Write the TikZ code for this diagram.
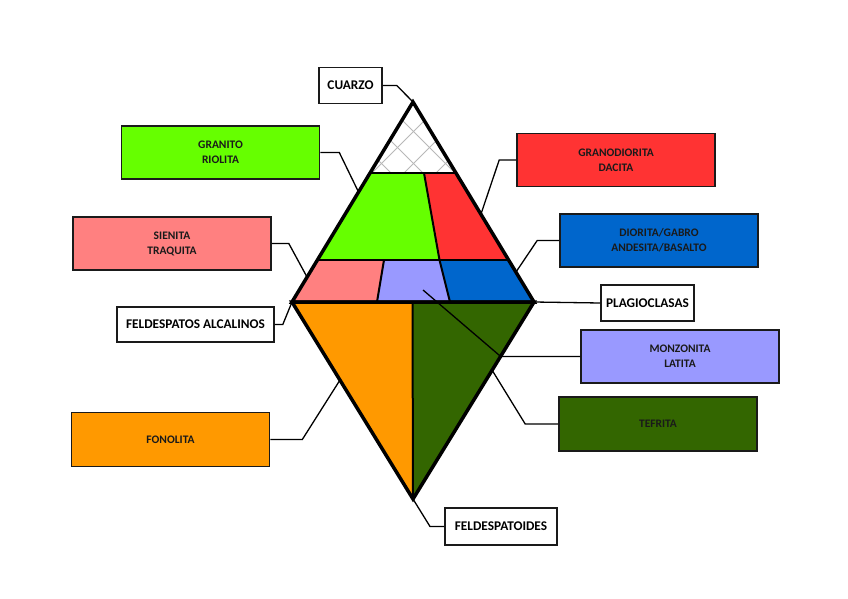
\documentclass[tikz,border=0pt]{standalone}
\usepackage{fontspec}
\setmainfont{Carlito}
\usetikzlibrary{calc}
\definecolor{cGreen}{HTML}{66FF00}
\definecolor{cRed}{HTML}{FF3333}
\definecolor{cPink}{HTML}{FF8080}
\definecolor{cLav}{HTML}{9999FF}
\definecolor{cBlue}{HTML}{0066CC}
\definecolor{cOrange}{HTML}{FF9900}
\definecolor{cDkGreen}{HTML}{336600}
\definecolor{cText}{HTML}{1A1A1A}
\definecolor{cHatch}{HTML}{B8B8B8}
\begin{document}
\begin{tikzpicture}[x=1pt,y=-1pt,
  rockbox/.style={draw=cText, line width=1.6pt, minimum width=198pt, minimum height=53pt,
    inner sep=0pt, align=center, font=\fontsize{11.5}{15}\selectfont\bfseries, text=cText},
  labelbox/.style={draw=cText, fill=white, line width=1.6pt, minimum height=36pt,
    inner sep=0pt, font=\fontsize{13.3}{15}\selectfont\bfseries, text=black},
  conn/.style={line width=1.3pt, draw=black},
  outline/.style={line width=3.5pt, line join=miter, draw=black},
  divider/.style={line width=2pt, draw=black},
  hatch/.style={draw=cHatch, line width=0.8pt},
]
\fill[white] (0,0) rectangle (848,599);
\useasboundingbox (0,0) rectangle (848,599);

% triangle vertices
\coordinate (Q) at (413,102);
\coordinate (A) at (292,302);
\coordinate (P) at (534,302);
\coordinate (F) at (413,499);
% edge points for connectors
\coordinate (gE) at (358.5,192);
\coordinate (sE) at (307,277);
\coordinate (grE) at (481,214);
\coordinate (dE) at (516,272);
\coordinate (mE) at (423,290);
\coordinate (tE) at (492,370);
\coordinate (fE) at (340,380);

% boxes
\node[labelbox, minimum width=63pt] (cuarzo) at (350.5,85.5) {CUARZO};
\node[rockbox, fill=cGreen] (granito) at (220.5,152.5) {GRANITO\\RIOLITA};
\node[rockbox, fill=cPink] (sienita) at (172,243.5) {SIENITA\\TRAQUITA};
\node[labelbox, minimum width=157pt, minimum height=35pt] (alcal) at (195.5,324.5) {FELDESPATOS ALCALINOS};
\node[rockbox, fill=cRed] (grano) at (616,160) {GRANODIORITA\\DACITA};
\node[rockbox, fill=cBlue] (diorita) at (659,240.5) {DIORITA/GABRO\\ANDESITA/BASALTO};
\node[labelbox, minimum width=93pt] (plag) at (647.5,303) {PLAGIOCLASAS};
\node[rockbox, fill=cLav] (monz) at (680,356.5) {MONZONITA\\LATITA};
\node[rockbox, fill=cDkGreen, minimum height=54pt] (tefrita) at (658,424) {TEFRITA};
\node[rockbox, fill=cOrange, minimum height=54pt] (fonolita) at (170.5,439.5) {FONOLITA};
\node[labelbox, minimum width=112pt, minimum height=37pt] (feldes) at (501,526.5) {FELDESPATOIDES};

% upper fills
\fill[cGreen] (370,173) -- (424,173) -- (439.5,260) -- (317.4,260) -- cycle;
\fill[cRed] (424,173) -- (456,173) -- (508.6,260) -- (439.5,260) -- cycle;
\fill[cPink] (317.4,260) -- (384,260) -- (377,302) -- (A) -- cycle;
\fill[cLav] (384,260) -- (439.5,260) -- (450,302) -- (377,302) -- cycle;
\fill[cBlue] (439.5,260) -- (508.6,260) -- (P) -- (450,302) -- cycle;

% quartz hatching
\begin{scope}
  \clip (Q) -- (370,173) -- (456,173) -- cycle;
  \foreach \c in {154,186,...,346} \draw[hatch] (\c+80,80) -- (\c+180,180);
  \foreach \c in {481,513,...,641} \draw[hatch] (\c-80,80) -- (\c-180,180);
\end{scope}

% upper dividers
\draw[divider] (370,173) -- (456,173);
\draw[divider] (317.4,260) -- (508.6,260);
\draw[divider] (424,173) -- (439.5,260);
\draw[divider] (384,260) -- (377,302);
\draw[divider] (439.5,260) -- (450,302);

% lower fills
\fill[cOrange] (A) -- (412.5,302) -- (F) -- cycle;
\fill[cDkGreen] (412.5,302) -- (P) -- (F) -- cycle;
\draw[divider] (412.5,302) -- (F);

% outlines
\draw[outline] (Q) -- (A) -- (P) -- cycle;
\draw[outline] (A) -- (P) -- (F) -- cycle;

% connectors
\draw[conn] (cuarzo.east) -- ++(14,0) -- (Q);
\draw[conn] (granito.east) -- ++(19,0) -- (gE);
\draw[conn] (sienita.east) -- ++(17,0) -- (sE);
\draw[conn] (alcal.east) -- ++(8,0) -- (A);
\draw[conn] (grano.west) -- ++(-17,0) -- (grE);
\draw[conn] (diorita.west) -- ++(-22,0) -- (dE);
\draw[conn] (P) -- (plag.west);
\draw[conn] (monz.west) -- ++(-79.5,0) -- (mE);
\draw[conn] (tefrita.west) -- ++(-33,0) -- (tE);
\draw[conn] (fonolita.east) -- ++(32,0) -- (fE);
\draw[conn] (F) -- ++(17,27.5) -- (feldes.west);
\end{tikzpicture}
\end{document}
